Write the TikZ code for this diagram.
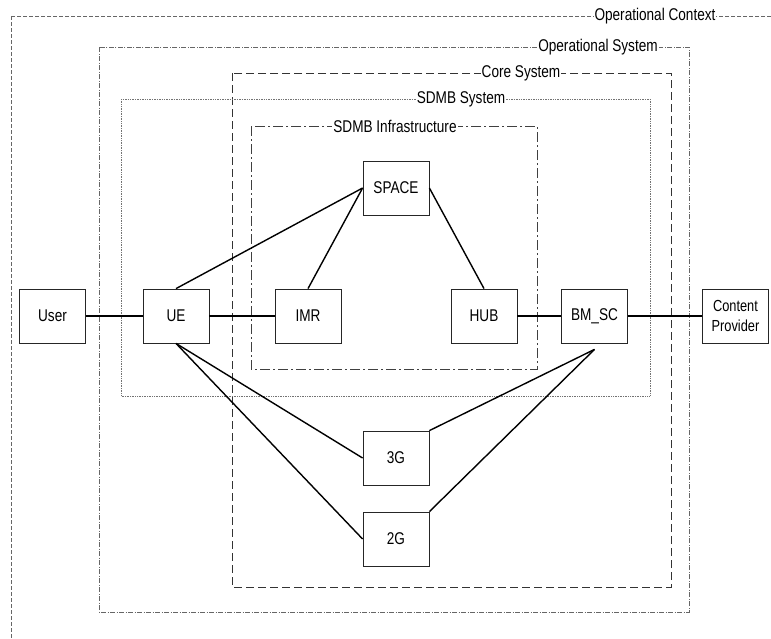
\documentclass[tikz,border=0pt]{standalone}
\usepackage{fontspec}
\setmainfont[FakeStretch=0.8]{Liberation Sans}
\begin{document}
\begin{tikzpicture}[x=1pt,y=-1pt,
  every node/.style={font=\fontsize{17}{19}\selectfont},
  blk/.style={draw=black!85,line width=0.8pt,fill=white,minimum width=66pt,minimum height=54pt,inner sep=0pt,align=center},
  link/.style={draw=black,line width=1.4pt},
  frlabel/.style={fill=white,inner xsep=1pt,inner ysep=0pt},
  ctxframe/.style={draw=black!60,line width=0.8pt,dash pattern=on 4pt off 2pt},
  opsframe/.style={draw=black!60,line width=0.8pt,dash pattern=on 5pt off 1.5pt on 1pt off 1.5pt},
  coreframe/.style={draw=black!80,line width=1pt,dash pattern=on 8pt off 4pt},
  sysframe/.style={draw=black!55,line width=0.9pt,dash pattern=on 1pt off 0.7pt},
  infraframe/.style={draw=black!75,line width=0.9pt,dash pattern=on 10pt off 3pt on 2pt off 3pt}]
\useasboundingbox (0,0) rectangle (771,638);
\clip (0,0) rectangle (771,638);
\fill[white] (0,0) rectangle (771,638);

% nested system boundaries
\draw[ctxframe] (11,16) rectangle (820,700);
\draw[opsframe] (99,47) rectangle (689,612);
\draw[coreframe] (232,73) rectangle (671,587);
\draw[sysframe] (121,99) rectangle (650,396);
\draw[infraframe] (251,126) rectangle (537,369);

\node[frlabel] (ctxlab) at (655,16) {Operational Context};
\node[frlabel] (opslab) at (598,47) {Operational System};
\node[frlabel] (corelab) at (521,73) {Core System};
\node[frlabel] (syslab) at (461,99) {SDMB System};
\node[frlabel] (infralab) at (395,126) {SDMB Infrastructure};

% components
\node[blk] (user) at (52.5,316) {User};
\node[blk] (ue) at (176,316) {UE};
\node[blk] (imr) at (308,316) {IMR};
\node[blk] (hub) at (484,316) {HUB};
\node[blk] (bmsc) at (594.5,316) {BM\_SC};
\node[blk,font=\fontsize{16}{20}\selectfont] (cp) at (735.5,316) {Content\\Provider};
\node[blk] (space) at (396,188) {SPACE};
\node[blk] (g3) at (396,458) {3G};
\node[blk] (g2) at (396,539) {2G};

\coordinate (bmtap) at ([yshift=-6pt]bmsc.south);

% interfaces
\draw[link] (user) -- (ue);
\draw[link] (ue) -- (imr);
\draw[link] (hub) -- (bmsc);
\draw[link] (bmsc) -- (cp);
\draw[link] (ue.north) -- (space.west);
\draw[link] (imr.north) -- (space.west);
\draw[link] (space.east) -- (hub.north);
\draw[link] (ue.south) -- (g3.west);
\draw[link] (ue.south) -- (g2.west);
\draw[link] (bmtap) -- (g3.north east);
\draw[link] (bmtap) -- (g2.north east);
\end{tikzpicture}
\end{document}
